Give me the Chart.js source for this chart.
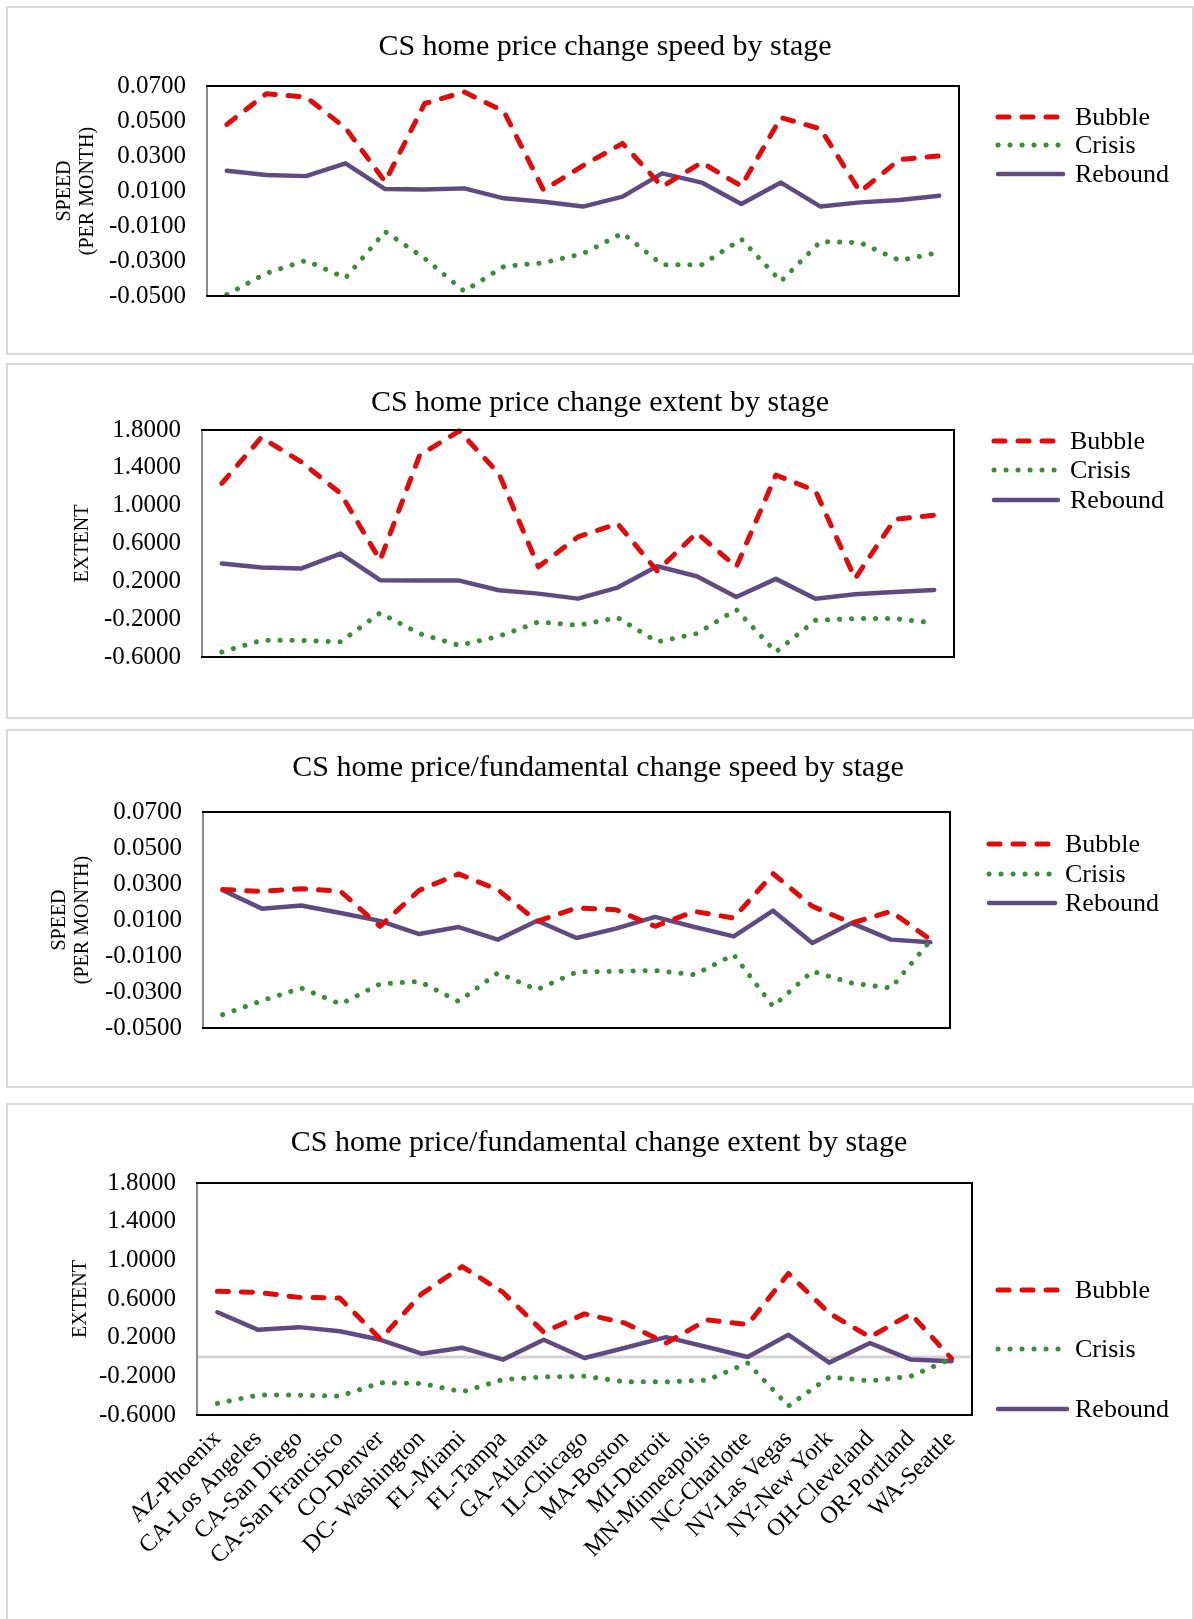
<!DOCTYPE html>
<html>
<head>
<meta charset="utf-8">
<title>CS home price change by stage</title>
<script src="https://cdn.jsdelivr.net/npm/chart.js@4.4.1/dist/chart.umd.min.js"></script>
<style>
  html, body { margin: 0; padding: 0; background: #fff; }
  #page { position: relative; width: 1194px; height: 1619px; overflow: hidden; }
  .panel { position: absolute; left: 6px; width: 1188px; border: 2px solid #d9d9d9; box-sizing: border-box; }
  canvas { position: absolute; left: 0; }
</style>
</head>
<body>
<div id="page">
  <div class="panel" style="top:6px;height:349px"></div>
  <div class="panel" style="top:363px;height:356px"></div>
  <div class="panel" style="top:729px;height:359px"></div>
  <div class="panel" style="top:1103px;height:600px"></div>
  <canvas id="c1" width="1194" height="349" style="top:6px"></canvas>
  <canvas id="c2" width="1194" height="356" style="top:363px"></canvas>
  <canvas id="c3" width="1194" height="359" style="top:729px"></canvas>
  <canvas id="c4" width="1194" height="516" style="top:1103px"></canvas>
</div>
<script>
// metro areas (x categories)
var cities = ['AZ-Phoenix', 'CA-Los Angeles', 'CA-San Diego', 'CA-San Francisco', 'CO-Denver',
  'DC- Washington', 'FL-Miami', 'FL-Tampa', 'GA-Atlanta', 'IL-Chicago', 'MA-Boston', 'MI-Detroit',
  'MN-Minneapolis', 'NC-Charlotte', 'NV-Las Vegas', 'NY-New York', 'OH-Cleveland', 'OR-Portland', 'WA-Seattle'];

var stageNames = ['Bubble', 'Crisis', 'Rebound'];

// y axis ticks
var speedTicks = [-0.05, -0.03, -0.01, 0.01, 0.03, 0.05, 0.07];
var extentTicks = [-0.6, -0.2, 0.2, 0.6, 1.0, 1.4, 1.8];

// CS home price change speed (per month)
var speedBubble = [0.048, 0.0656, 0.0637, 0.046, 0.0153, 0.060, 0.0666, 0.0555, 0.0106, 0.0245,
  0.0372, 0.0125, 0.0263, 0.0128, 0.052, 0.0455, 0.0096, 0.028, 0.030];
var speedCrisis = [-0.0492, -0.037, -0.0297, -0.0397, -0.0132, -0.0285, -0.0473, -0.0331, -0.031, -0.0258,
  -0.0141, -0.0321, -0.0321, -0.0175, -0.0416, -0.0189, -0.0195, -0.0297, -0.0251];
var speedRebound = [0.0216, 0.0191, 0.0185, 0.0258, 0.0111, 0.0109, 0.0115, 0.0058, 0.0039, 0.0011,
  0.0068, 0.0201, 0.0148, 0.0026, 0.0148, 0.0011, 0.0035, 0.0049, 0.0073];

// CS home price change extent
var extentBubble = [1.235, 1.722, 1.465, 1.13, 0.423, 1.535, 1.79, 1.34, 0.353, 0.67,
  0.81, 0.31, 0.713, 0.353, 1.324, 1.157, 0.229, 0.854, 0.90];
var extentCrisis = [-0.547, -0.424, -0.424, -0.44, -0.134, -0.353, -0.477, -0.381, -0.23, -0.265,
  -0.184, -0.44, -0.353, -0.099, -0.547, -0.212, -0.194, -0.194, -0.24];
var extentRebound = [0.388, 0.346, 0.335, 0.494, 0.212, 0.208, 0.208, 0.106, 0.07, 0.017,
  0.134, 0.36, 0.254, 0.035, 0.226, 0.017, 0.063, 0.088, 0.109];

// CS home price/fundamental change speed (per month)
var fundSpeedBubble = [0.0269, 0.0259, 0.0274, 0.0259, 0.0065, 0.0265, 0.0356, 0.0268, 0.0093, 0.0167,
  0.0157, 0.0065, 0.0148, 0.0111, 0.0357, 0.0176, 0.0083, 0.0148, -0.0009];
var fundSpeedCrisis = [-0.0426, -0.0348, -0.0278, -0.0367, -0.0256, -0.0241, -0.0352, -0.0194, -0.0287, -0.0189,
  -0.0185, -0.0181, -0.0204, -0.0093, -0.038, -0.0185, -0.025, -0.0278, -0.0015];
var fundSpeedRebound = [0.0265, 0.0163, 0.0181, 0.0139, 0.0095, 0.0022, 0.0061, -0.0009, 0.0096, 0.0,
  0.0052, 0.0117, 0.0061, 0.0009, 0.0152, -0.0028, 0.0083, -0.0009, -0.0024];

// CS home price/fundamental change extent
var fundExtentBubble = [0.679, 0.669, 0.617, 0.61, 0.185, 0.65, 0.936, 0.67, 0.257, 0.446,
  0.35, 0.144, 0.384, 0.336, 0.864, 0.453, 0.206, 0.446, -0.017];
var fundExtentCrisis = [-0.48, -0.394, -0.394, -0.405, -0.267, -0.274, -0.36, -0.233, -0.206, -0.199,
  -0.257, -0.257, -0.24, -0.062, -0.507, -0.206, -0.247, -0.199, -0.017];
var fundExtentRebound = [0.463, 0.281, 0.309, 0.267, 0.178, 0.034, 0.096, -0.027, 0.178, -0.01,
  0.096, 0.206, 0.103, 0.0, 0.23, -0.058, 0.144, -0.027, -0.044];

var FONT = '"Liberation Serif", "Times New Roman", Times, serif';

var stageStyles = [
  { borderColor: '#e00b0b', borderWidth: 5, borderDash: [11, 13] },
  { borderColor: '#3b8c3b', borderWidth: 5, borderDash: [0.1, 11.9] },
  { borderColor: '#5f4b82', borderWidth: 4.5, borderDash: [] }
];

// frame, zero line, title and legend for each panel
var panelDecor = {
  id: 'panelDecor',
  beforeDatasetsDraw: function (chart, args, opts) {
    var a = chart.chartArea, ctx = chart.ctx;
    if (opts.zeroLine) {
      var y0 = chart.scales.y.getPixelForValue(0);
      ctx.save();
      ctx.strokeStyle = '#d4d4d4';
      ctx.lineWidth = 3;
      ctx.beginPath();
      ctx.moveTo(a.left, y0);
      ctx.lineTo(a.right, y0);
      ctx.stroke();
      ctx.restore();
    }
  },
  afterDraw: function (chart, args, opts) {
    var a = chart.chartArea, ctx = chart.ctx;
    ctx.save();
    ctx.strokeStyle = '#000';
    ctx.lineWidth = 2;
    ctx.strokeRect(a.left, a.top, a.right - a.left, a.bottom - a.top);
    ctx.strokeStyle = '#8a8a8a';
    ctx.beginPath();
    ctx.moveTo(a.left, a.top + 1);
    ctx.lineTo(a.left, a.bottom - 1);
    ctx.stroke();

    // chart title
    ctx.fillStyle = '#000';
    ctx.font = '30px ' + FONT;
    ctx.textAlign = 'center';
    ctx.textBaseline = 'middle';
    ctx.fillText(opts.title, opts.titleX, opts.titleY);

    // legend
    ctx.font = '26px ' + FONT;
    ctx.textAlign = 'left';
    chart.data.datasets.forEach(function (ds, i) {
      var y = opts.legendY[i];
      ctx.strokeStyle = ds.borderColor;
      ctx.lineWidth = ds.borderWidth;
      ctx.lineCap = 'round';
      ctx.setLineDash(ds.borderDash);
      ctx.beginPath();
      ctx.moveTo(opts.legendX[0], y);
      ctx.lineTo(opts.legendX[1], y);
      ctx.stroke();
      ctx.setLineDash([]);
      ctx.fillText(ds.label, opts.legendX[2], y + 1);
    });
    ctx.restore();
  }
};

function makeChart(p) {
  var relTop = p.plot[1] - p.top;
  var relBottom = p.plot[3] - p.top;
  var padLeft = 40;
  var showLabels = !!p.showLabels;

  var datasets = p.series.map(function (values, i) {
    var st = stageStyles[i];
    return {
      label: stageNames[i],
      data: values,
      borderColor: st.borderColor,
      backgroundColor: st.borderColor,
      borderWidth: st.borderWidth,
      borderDash: st.borderDash,
      borderCapStyle: 'round',
      borderJoinStyle: 'round',
      pointRadius: 0,
      tension: 0,
      fill: false,
      clip: false
    };
  });

  var xScale = {
    display: showLabels,
    offset: true,
    grid: { display: false, drawTicks: false },
    border: { display: false },
    ticks: {
      autoSkip: false,
      minRotation: 45,
      maxRotation: 45,
      padding: 10,
      color: '#000',
      font: { family: FONT, size: 24 }
    }
  };
  if (showLabels) {
    xScale.afterFit = function (scale) { scale.height = p.height - relBottom; };
  }

  new Chart(document.getElementById(p.id), {
    type: 'line',
    data: { labels: cities, datasets: datasets },
    options: {
      responsive: false,
      animation: false,
      events: [],
      layout: {
        padding: {
          left: padLeft,
          right: 1194 - p.plot[2],
          top: relTop,
          bottom: showLabels ? 0 : p.height - relBottom
        }
      },
      plugins: {
        legend: { display: false },
        title: { display: false },
        tooltip: { enabled: false },
        panelDecor: {
          title: p.title,
          titleX: p.titleX,
          titleY: p.titleY - p.top,
          zeroLine: !!p.zeroLine,
          legendX: p.legendX,
          legendY: p.legendY.map(function (y) { return y - p.top; })
        }
      },
      scales: {
        x: xScale,
        y: {
          min: p.ticks[0],
          max: p.ticks[p.ticks.length - 1],
          grid: { display: false, drawTicks: false },
          border: { display: false },
          afterBuildTicks: function (scale) {
            scale.ticks = p.ticks.map(function (v) { return { value: v }; });
          },
          afterFit: function (scale) { scale.width = p.plot[0] - padLeft; },
          ticks: {
            autoSkip: false,
            padding: 21,
            color: '#000',
            font: { family: FONT, size: 25 },
            callback: function (v) { return Number(v).toFixed(4); }
          },
          title: {
            display: true,
            text: p.yTitle,
            color: '#000',
            font: { family: FONT, size: 20, lineHeight: 1.15 },
            padding: { top: p.yTitlePad, bottom: 0 }
          }
        }
      }
    },
    plugins: [panelDecor]
  });
}

makeChart({
  id: 'c1', top: 6, height: 349, plot: [207, 86, 959, 296],
  title: 'CS home price change speed by stage', titleX: 605, titleY: 47,
  yTitle: ['SPEED', '(PER MONTH)'], yTitlePad: 13.5, ticks: speedTicks,
  series: [speedBubble, speedCrisis, speedRebound],
  legendX: [998, 1063, 1075], legendY: [117, 145, 174]
});
makeChart({
  id: 'c2', top: 363, height: 356, plot: [202, 430, 954, 657],
  title: 'CS home price change extent by stage', titleX: 600, titleY: 403,
  yTitle: 'EXTENT', yTitlePad: 31.5, ticks: extentTicks,
  series: [extentBubble, extentCrisis, extentRebound],
  legendX: [994, 1058, 1070], legendY: [441, 470, 500]
});
makeChart({
  id: 'c3', top: 729, height: 359, plot: [203, 812, 950, 1028],
  title: 'CS home price/fundamental change speed by stage', titleX: 598, titleY: 768,
  yTitle: ['SPEED', '(PER MONTH)'], yTitlePad: 8.5, ticks: speedTicks,
  series: [fundSpeedBubble, fundSpeedCrisis, fundSpeedRebound],
  legendX: [989, 1055, 1065], legendY: [844, 874, 903]
});
makeChart({
  id: 'c4', top: 1103, height: 516, plot: [197, 1183, 972, 1415], showLabels: true, zeroLine: true,
  title: 'CS home price/fundamental change extent by stage', titleX: 599, titleY: 1143,
  yTitle: 'EXTENT', yTitlePad: 29, ticks: extentTicks,
  series: [fundExtentBubble, fundExtentCrisis, fundExtentRebound],
  legendX: [998, 1067, 1075], legendY: [1290, 1349, 1409]
});
</script>
</body>
</html>
